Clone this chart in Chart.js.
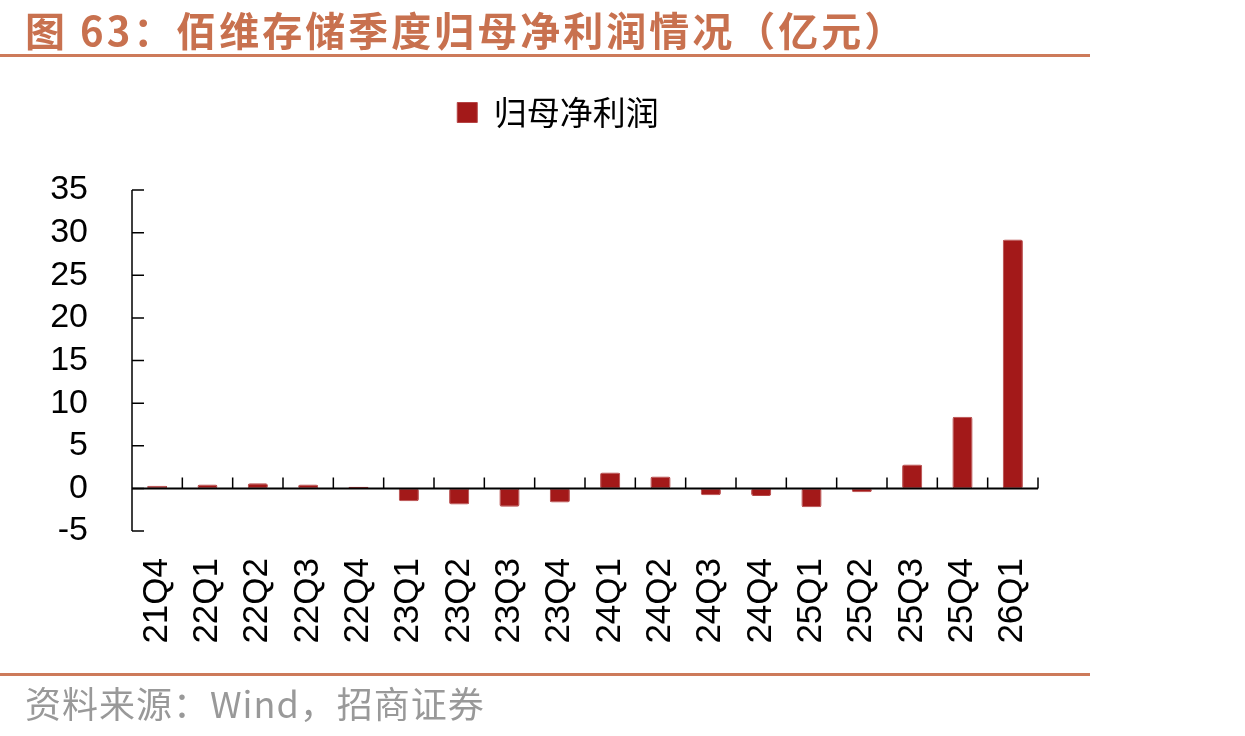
<!DOCTYPE html>
<html><head><meta charset="utf-8">
<script src="https://cdn.jsdelivr.net/npm/chart.js@4"></script>
<style>
html,body{margin:0;padding:0;background:#fff;}
#wrap{position:relative;width:1245px;height:736px;overflow:hidden;background:#fff;}
#c{position:absolute;left:0;top:0;}
.title{position:absolute;left:25px;top:6px;font-family:"Noto Sans CJK SC";font-weight:bold;font-size:40px;letter-spacing:3px;color:#C8714F;line-height:46px;white-space:nowrap;}
.rule{position:absolute;left:0;width:1090px;height:3px;background:#CD7A5A;}
.src{position:absolute;left:25px;top:679px;font-family:"Noto Sans CJK SC";font-size:36px;letter-spacing:1px;color:#999;line-height:46px;white-space:nowrap;}
</style></head>
<body><div id="wrap">
<canvas id="c" width="1245" height="736" style="width:1245px;height:736px"></canvas>
<div class="title">图 63：佰维存储季度归母净利润情况（亿元）</div>
<div class="rule" style="top:54px"></div>
<div class="rule" style="top:673px"></div>
<div class="src">资料来源：Wind，招商证券</div>
</div>
<script>
const categories = ['21Q4','22Q1','22Q2','22Q3','22Q4','23Q1','23Q2','23Q3','23Q4','24Q1','24Q2','24Q3','24Q4','25Q1','25Q2','25Q3','25Q4','26Q1'];
const netProfit = [0.3,0.45,0.6,0.45,0.2,-1.5,-1.9,-2.15,-1.65,1.85,1.4,-0.8,-0.9,-2.2,-0.45,2.8,8.4,29.2];
const seriesName = '归母净利润';
const yMin = -5, yMax = 35, yStep = 5;

const axisDraw = {
  id: 'axisDraw',
  beforeInit(chart) {
    const lg = chart.legend;
    if (lg) {
      const orig = lg.fit;
      lg.fit = function () { orig.call(this); this.height = 104; };
    }
  },
  afterLayout(chart) {
    const lg = chart.legend;
    if (lg) { lg.left += 23; lg.right += 23; }
  },
  afterDatasetsDraw(chart) {
    const {ctx, scales: {x, y}} = chart;
    const y0 = y.getPixelForValue(0);
    ctx.save();
    ctx.strokeStyle = '#000';
    ctx.lineWidth = 1.5;
    ctx.beginPath();
    ctx.moveTo(x.left, y.top); ctx.lineTo(x.left, y.bottom);
    y.ticks.forEach((t, i) => {
      const py = y.getPixelForTick(i);
      ctx.moveTo(x.left, py); ctx.lineTo(x.left + 12, py);
    });
    const n = categories.length, w = (x.right - x.left) / n;
    for (let i = 1; i <= n; i++) {
      const px = x.left + i * w;
      ctx.moveTo(px, y0); ctx.lineTo(px, y0 - 11);
    }
    ctx.stroke();
    ctx.lineWidth = 2;
    ctx.beginPath();
    ctx.moveTo(x.left, y0); ctx.lineTo(x.right, y0);
    ctx.stroke();
    ctx.restore();
  }
};

new Chart(document.getElementById('c'), {
  type: 'bar',
  data: {
    labels: categories,
    datasets: [{
      label: seriesName,
      data: netProfit,
      backgroundColor: '#A31919',
      borderColor: '#B54545',
      borderWidth: 1,
      borderRadius: 2,
      borderSkipped: false,
      categoryPercentage: 1,
      barPercentage: 0.4
    }]
  },
  options: {
    responsive: false,
    animation: false,
    layout: {padding: {left: 32, right: 207, top: 86, bottom: 85}},
    plugins: {
      legend: {
        position: 'top',
        onClick: null,
        labels: {
          boxWidth: 20, boxHeight: 20, padding: 10, color: '#000',
          font: {family: '"Noto Sans CJK SC"', size: 33}
        }
      },
      tooltip: {enabled: false}
    },
    scales: {
      x: {
        grid: {display: false}, border: {display: false},
        ticks: {color: '#000', font: {family: '"Liberation Sans"', size: 35}, maxRotation: 90, minRotation: 90, padding: 19, autoSkip: false},
        afterFit(s) { s.height = 120; }
      },
      y: {
        min: yMin, max: yMax,
        grid: {display: false}, border: {display: false},
        ticks: {stepSize: yStep, autoSkip: false, color: '#000', font: {family: '"Liberation Sans"', size: 34}, padding: 36},
        afterFit(s) { s.width = 100; }
      }
    }
  },
  plugins: [axisDraw]
});
</script>
</body></html>
